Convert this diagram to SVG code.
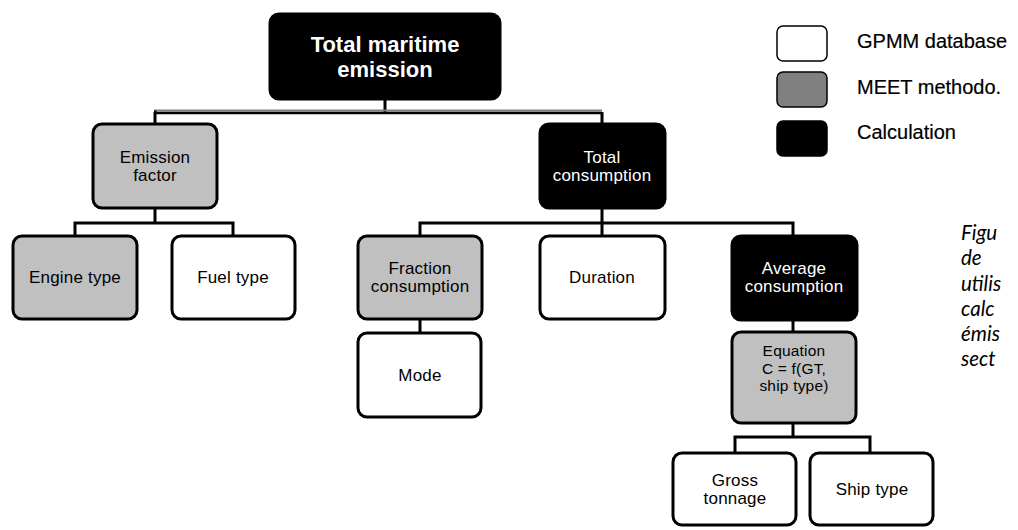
<svg xmlns="http://www.w3.org/2000/svg" width="1018" height="530" viewBox="0 0 1018 530">
<style>
.box{stroke:#000;stroke-width:3}
.w{fill:#fff}
.g{fill:#c0c0c0}
.k{fill:#000}
.t{font-family:"Liberation Sans",Arial,sans-serif;font-size:17px;letter-spacing:0.2px;text-anchor:middle;fill:#000}
.s{font-size:15.5px}
.tw{fill:#fff}
.big{font-family:"Liberation Sans",Arial,sans-serif;font-size:22px;font-weight:bold;text-anchor:middle;fill:#fff}
.lg{font-family:"Liberation Sans",Arial,sans-serif;font-size:20px;fill:#000;stroke:#000;stroke-width:0.2}
.cap{font-family:Lato,"Open Sans",sans-serif;font-size:20.5px;font-style:italic;fill:#000}
.c{fill:none;stroke:#000;stroke-width:3}
</style>
<rect width="1018" height="530" fill="#fff"/>
<g id="connectors">
<line x1="385" y1="99" x2="385" y2="113" class="c"/>
<line x1="154" y1="110.5" x2="602" y2="110.5" stroke="#808080" stroke-width="2"/>
<line x1="154" y1="113" x2="602" y2="113" stroke="#000" stroke-width="2.5"/>
<polyline points="155,124 155,112 154,112" class="c"/>
<line x1="602" y1="112" x2="602" y2="124" class="c"/>
<line x1="155" y1="208" x2="155" y2="223" class="c"/>
<polyline points="75,236 75,223 233,223 233,236" class="c"/>
<line x1="602" y1="208" x2="602" y2="236" class="c"/>
<polyline points="420,236 420,223 793,223 793,236" class="c"/>
<line x1="420" y1="319" x2="420" y2="333" class="c"/>
<line x1="793" y1="320" x2="793" y2="332" class="c"/>
<line x1="793" y1="423" x2="793" y2="437" class="c"/>
<polyline points="735,453 735,437 870,437 870,453" class="c"/>
</g>
<g id="n-total">
<rect x="270" y="14" width="230" height="85" rx="9" class="box k"/>
<text x="385" y="52" class="big">Total maritime</text>
<text x="385" y="77" class="big">emission</text>
</g>
<g id="n-emission-factor">
<rect x="93" y="124" width="124" height="84" rx="9" class="box g"/>
<text x="155" y="163" class="t">Emission</text>
<text x="155" y="181" class="t">factor</text>
</g>
<g id="n-total-consumption">
<rect x="540" y="124" width="125" height="84" rx="9" class="box k"/>
<text x="602" y="163" class="t tw">Total</text>
<text x="602" y="181" class="t tw">consumption</text>
</g>
<g id="n-engine">
<rect x="13" y="236" width="124" height="83" rx="9" class="box g"/>
<text x="75" y="283" class="t">Engine type</text>
</g>
<g id="n-fuel">
<rect x="172" y="236" width="123" height="83" rx="9" class="box w"/>
<text x="233" y="283" class="t">Fuel type</text>
</g>
<g id="n-fraction">
<rect x="358" y="236" width="124" height="83" rx="9" class="box g"/>
<text x="420" y="274" class="t">Fraction</text>
<text x="420" y="292" class="t">consumption</text>
</g>
<g id="n-duration">
<rect x="540" y="236" width="125" height="83" rx="9" class="box w"/>
<text x="602" y="283" class="t">Duration</text>
</g>
<g id="n-average">
<rect x="732" y="236" width="125" height="84" rx="9" class="box k"/>
<text x="794" y="274" class="t tw">Average</text>
<text x="794" y="292" class="t tw">consumption</text>
</g>
<g id="n-mode">
<rect x="358" y="333" width="123" height="84" rx="9" class="box w"/>
<text x="420" y="381" class="t">Mode</text>
</g>
<g id="n-equation">
<rect x="732" y="332" width="124" height="91" rx="9" class="box g"/>
<text x="794" y="356" class="t s">Equation</text>
<text x="794" y="374" class="t s">C = f(GT,</text>
<text x="794" y="391" class="t s">ship type)</text>
</g>
<g id="n-gross">
<rect x="673" y="453" width="123" height="72" rx="9" class="box w"/>
<text x="735" y="486" class="t">Gross</text>
<text x="735" y="504" class="t">tonnage</text>
</g>
<g id="n-shiptype">
<rect x="810" y="453" width="123" height="72" rx="9" class="box w"/>
<text x="872" y="495" class="t">Ship type</text>
</g>
<g id="legend">
<rect x="777" y="26" width="50" height="35" rx="6" fill="#fff" stroke="#000" stroke-width="1.5"/>
<rect x="777" y="72" width="50" height="35" rx="6" fill="#808080" stroke="#000" stroke-width="1.5"/>
<rect x="777" y="121" width="50" height="35" rx="6" fill="#000" stroke="#000" stroke-width="1.5"/>
<text x="857" y="48" class="lg">GPMM database</text>
<text x="857" y="94" class="lg">MEET methodo.</text>
<text x="857" y="139" class="lg">Calculation</text>
</g>
<g id="caption">
<text x="961" y="240" class="cap">Figu</text>
<text x="961" y="265" class="cap">de</text>
<text x="961" y="291" class="cap">utilis</text>
<text x="961" y="316" class="cap">calc</text>
<text x="961" y="341" class="cap">émis</text>
<text x="961" y="366" class="cap">sect</text>
</g>
</svg>
